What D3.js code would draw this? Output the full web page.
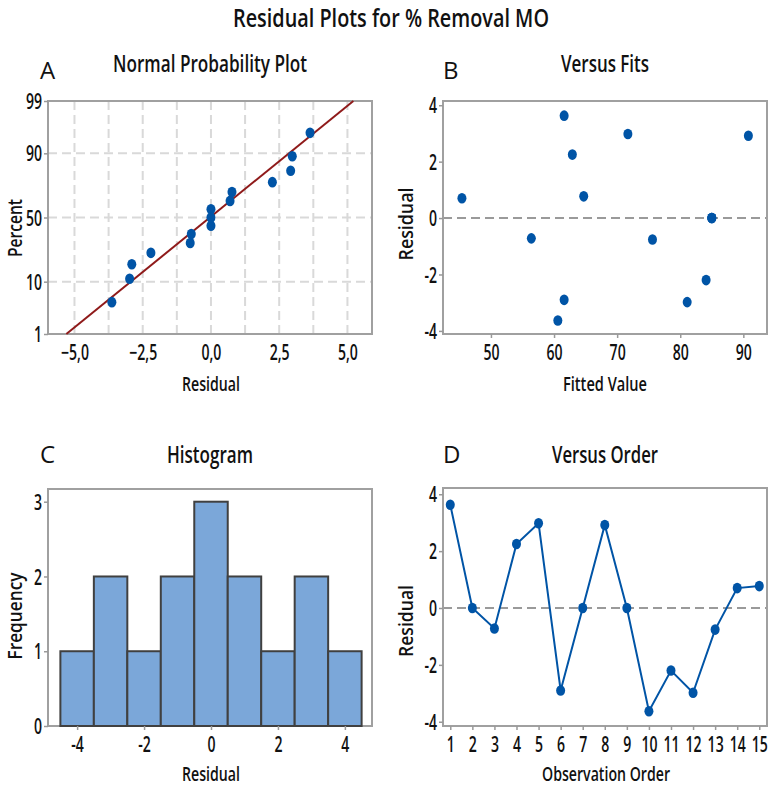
<!DOCTYPE html>
<html><head><meta charset="utf-8">
<script src="https://cdn.jsdelivr.net/npm/d3@7"></script>
<style>body{margin:0;background:#fff}svg{display:block}</style>
</head><body>
<script>
// ---------- data ----------
const observationOrder = [1,2,3,4,5,6,7,8,9,10,11,12,13,14,15];
const residuals   = [3.63, 0.0, -0.72, 2.25, 2.98, -2.90, 0.0, 2.92, 0.0, -3.63, -2.20, -2.98, -0.76, 0.70, 0.77];
const fittedValues = [61.6, 85.0, 56.4, 62.9, 71.7, 61.6, 85.0, 90.8, 85.0, 60.6, 84.1, 81.1, 75.6, 45.4, 64.7];
const histBinCenters = [-4,-3,-2,-1,0,1,2,3,4];
const histCounts     = [1,2,1,2,3,2,1,2,1];
const percentTicks   = [1,10,50,90,99];
const percentGrid    = [10,50,90];
const residualTicksA = [-5,-2.5,0,2.5,5];
const residualGridA  = [-5,-3.75,-2.5,-1.25,0,1.25,2.5,3.75,5];
const fitTicks   = [50,60,70,80,90];
const residTicks = [-4,-2,0,2,4];
const freqTicks  = [0,1,2,3];
const histTicks  = [-4,-2,0,2,4];
const fitLineMean = -0.04, fitLineSd = 2.26;

// ---------- helpers ----------
function qnorm(p){ // Acklam inverse normal
  const a=[-3.969683028665376e+01,2.209460984245205e+02,-2.759285104469687e+02,1.383577518672690e+02,-3.066479806614716e+01,2.506628277459239e+00];
  const b=[-5.447609879822406e+01,1.615858368580409e+02,-1.556989798598866e+02,6.680131188771972e+01,-1.328068155288572e+01];
  const c=[-7.784894002430293e-03,-3.223964580411365e-01,-2.400758277161838e+00,-2.549732539343734e+00,4.374664141464968e+00,2.938163982698783e+00];
  const d=[7.784695709041462e-03,3.224671290700398e-01,2.445134137142996e+00,3.754408661907416e+00];
  const pl=0.02425, ph=1-pl; let q,r;
  if(p<pl){q=Math.sqrt(-2*Math.log(p));return (((((c[0]*q+c[1])*q+c[2])*q+c[3])*q+c[4])*q+c[5])/((((d[0]*q+d[1])*q+d[2])*q+d[3])*q+1);}
  if(p>ph){q=Math.sqrt(-2*Math.log(1-p));return -(((((c[0]*q+c[1])*q+c[2])*q+c[3])*q+c[4])*q+c[5])/((((d[0]*q+d[1])*q+d[2])*q+d[3])*q+1);}
  q=p-0.5; r=q*q;
  return (((((a[0]*r+a[1])*r+a[2])*r+a[3])*r+a[4])*r+a[5])*q/(((((b[0]*r+b[1])*r+b[2])*r+b[3])*r+b[4])*r+1);
}

const W=769,H=787;
const FONT="'Open Sans','Noto Sans',sans-serif";
const SQ=0.67;
const BLUE="#0054a6", GRID="#d9d9d9", BORDER="#a0a0a0";
const svg=d3.select("body").append("svg").attr("width",W).attr("height",H);
svg.append("rect").attr("width",W).attr("height",H).attr("fill","#fff");

function txt(t,x,y,size,len,o={}){
  const el=svg.append("text").attr("x",x).attr("y",y).text(t)
    .attr("font-family",FONT).attr("font-size",size).attr("font-weight",o.weight||600)
    .attr("text-anchor",o.anchor||"middle").attr("fill","#111");
  if(len) el.attr("textLength",len).attr("lengthAdjust",o.adjust||"spacingAndGlyphs");
  if(o.rotate) el.attr("transform",`rotate(-90,${x},${y})`);
  return el;
}
function yAxis(scale,x,vals,fmt){
  const g=svg.append("g").attr("transform",`translate(${x},0)`)
    .call(d3.axisLeft(scale).tickValues(vals).tickSize(4).tickPadding(4).tickFormat(fmt||(d=>d)));
  styleAxis(g);
  g.selectAll(".tick text").attr("x",-9).attr("dy","0.36em").attr("transform",`scale(${SQ},1)`);
  return g;
}
function xAxis(scale,y,vals,fmt,tick=4){
  const g=svg.append("g").attr("transform",`translate(0,${y})`)
    .call(d3.axisBottom(scale).tickValues(vals).tickSize(tick).tickPadding(4).tickFormat(fmt||(d=>d)));
  styleAxis(g);
  g.selectAll(".tick text").attr("y",26).attr("dy",0).attr("transform",`scale(${SQ},1)`);
  return g;
}
function styleAxis(g){
  g.select(".domain").remove();
  g.selectAll(".tick line").attr("stroke","#999").attr("stroke-width",1.5);
  g.selectAll(".tick text").attr("font-family",FONT).attr("font-size",21).attr("font-weight",600).attr("fill","#111");
}
function border(x0,y0,x1,y1){
  svg.append("rect").attr("x",x0).attr("y",y0).attr("width",x1-x0).attr("height",y1-y0)
    .attr("fill","none").attr("stroke",BORDER).attr("stroke-width",2);
}
function dots(data,xf,yf){
  svg.append("g").selectAll("ellipse").data(data).join("ellipse")
    .attr("cx",xf).attr("cy",yf).attr("rx",4.5).attr("ry",5.3).attr("fill",BLUE);
}

// ---------- main title ----------
txt("Residual Plots for % Removal MO",391,27,25,316);

// ---------- Panel A: Normal probability plot ----------
{
  const x0=48,x1=372,y0=101,y1=334;
  const x=d3.scaleLinear().domain([-5.97,5.9]).range([x0,x1]);
  const z=d3.scaleLinear().domain([qnorm(0.01),qnorm(0.99)]).range([y1,y0]);
  txt("A",40,79,24,null,{anchor:"start",weight:400});
  txt("Normal Probability Plot",210,72,24,194);
  svg.append("g").selectAll("line.v").data(residualGridA).join("line")
    .attr("x1",d=>x(d)).attr("x2",d=>x(d)).attr("y1",y0).attr("y2",y1)
    .attr("stroke",GRID).attr("stroke-width",2).attr("stroke-dasharray","9,5");
  svg.append("g").selectAll("line.h").data(percentGrid).join("line")
    .attr("x1",x0).attr("x2",x1).attr("y1",d=>z(qnorm(d/100))).attr("y2",d=>z(qnorm(d/100)))
    .attr("stroke",GRID).attr("stroke-width",2).attr("stroke-dasharray","9,5");
  border(x0,y0,x1,y1);
  yAxis(z,x0,percentTicks.map(p=>qnorm(p/100)),(d,i)=>percentTicks[i]);
  xAxis(x,y1,residualTicksA,d=>d3.format(".1f")(d).replace(".",","),0);
  const zl=qnorm(0.01), zh=qnorm(0.99);
  svg.append("line").attr("x1",x(fitLineMean+fitLineSd*zl)).attr("y1",z(zl))
    .attr("x2",x(fitLineMean+fitLineSd*zh)).attr("y2",z(zh))
    .attr("stroke","#8f1a1a").attr("stroke-width",2);
  const n=residuals.length;
  const sorted=residuals.slice().sort((a,b)=>a-b).map((r,i)=>({r,p:(i+1-0.3)/(n+0.4)}));
  dots(sorted,d=>x(d.r),d=>z(qnorm(d.p)));
  txt("Residual",211,391,20,58);
  txt("Percent",21.5,228,20,58,{rotate:true});
}

// ---------- Panel B: Versus fits ----------
{
  const x0=443,x1=767,y0=101,y1=334;
  const x=d3.scaleLinear().domain([42.4,93.75]).range([x0,x1]);
  const y=d3.scaleLinear().domain([-4.11,4.15]).range([y1,y0]);
  txt("B",443,79,24,null,{anchor:"start",weight:400});
  txt("Versus Fits",605,72,24,88);
  svg.append("line").attr("x1",x0).attr("x2",x1).attr("y1",y(0)).attr("y2",y(0))
    .attr("stroke","#9a9a9a").attr("stroke-width",2).attr("stroke-dasharray","9,5");
  border(x0,y0,x1,y1);
  yAxis(y,x0,residTicks);
  xAxis(x,y1,fitTicks);
  dots(observationOrder.map((o,i)=>i),i=>x(fittedValues[i]),i=>y(residuals[i]));
  txt("Fitted Value",605,391,20,84);
  txt("Residual",413,224,20,73,{rotate:true});
}

// ---------- Panel C: Histogram ----------
{
  const x0=48,x1=372,y0=489,y1=726;
  const x=d3.scaleLinear().domain([-4.87,4.81]).range([x0,x1]);
  const y=d3.scaleLinear().domain([0,3.17]).range([y1,y0]);
  txt("C",40,463,24,null,{anchor:"start",weight:400});
  txt("Histogram",210,463,24,86);
  border(x0,y0,x1,y1);
  svg.append("g").selectAll("rect").data(histBinCenters).join("rect")
    .attr("x",d=>x(d-0.5)).attr("width",d=>x(d+0.5)-x(d-0.5))
    .attr("y",(d,i)=>y(histCounts[i])).attr("height",(d,i)=>y(0)-y(histCounts[i]))
    .attr("fill","#7ba7d9").attr("stroke","#404040").attr("stroke-width",2);
  yAxis(y,x0,freqTicks);
  xAxis(x,y1,histTicks);
  txt("Residual",211,781,20,58);
  txt("Frequency",22,616,20,87,{rotate:true});
}

// ---------- Panel D: Versus order ----------
{
  const x0=443,x1=767,y0=488,y1=726;
  const x=d3.scaleLinear().domain([0.67,15.35]).range([x0,x1]);
  const y=d3.scaleLinear().domain([-4.15,4.22]).range([y1,y0]);
  txt("D",443,463,24,null,{anchor:"start",weight:400});
  txt("Versus Order",605,463,24,106);
  svg.append("line").attr("x1",x0).attr("x2",x1).attr("y1",y(0)).attr("y2",y(0))
    .attr("stroke","#9a9a9a").attr("stroke-width",2).attr("stroke-dasharray","9,5");
  border(x0,y0,x1,y1);
  yAxis(y,x0,residTicks);
  xAxis(x,y1,observationOrder);
  svg.append("path").datum(observationOrder.map((o,i)=>[o,residuals[i]]))
    .attr("d",d3.line().x(d=>x(d[0])).y(d=>y(d[1])))
    .attr("fill","none").attr("stroke",BLUE).attr("stroke-width",2);
  dots(observationOrder.map((o,i)=>i),i=>x(observationOrder[i]),i=>y(residuals[i]));
  txt("Observation Order",606,781,20,128);
  txt("Residual",413,621,20,72,{rotate:true});
}
</script>
</body></html>
